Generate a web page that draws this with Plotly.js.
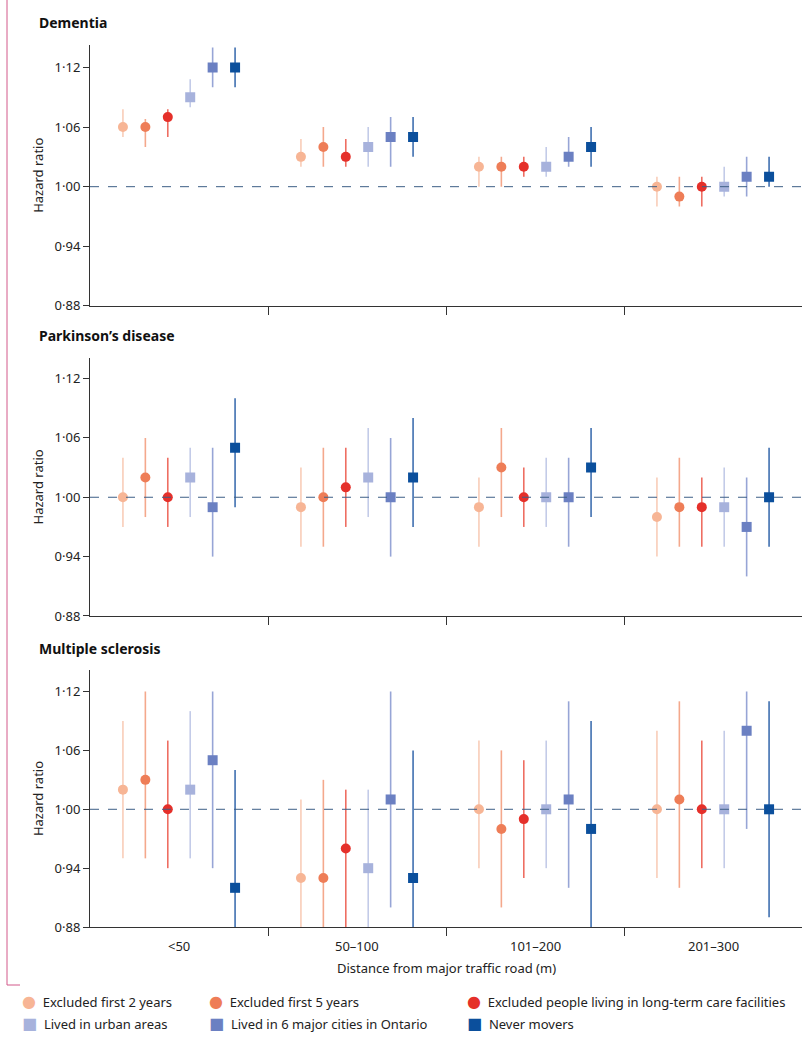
<!DOCTYPE html>
<html>
<head>
<meta charset="utf-8">
<script src="https://cdn.plot.ly/plotly-3.0.1.min.js"></script>
<style>body{margin:0;background:#fff}#chart{width:812px;height:1037px}</style>
</head>
<body>
<div id="chart"></div>
<script>
var groups = ['<50', '50–100', '101–200', '201–300'];
var seriesNames = ['Excluded first 2 years', 'Excluded first 5 years', 'Excluded people living in long-term care facilities',
                   'Lived in urban areas', 'Lived in 6 major cities in Ontario', 'Never movers'];
var colors = ['#f7b595', '#ee7d57', '#e5302a', '#a7b2dc', '#6b80c2', '#0b4f9c'];
var barColors = ['#f9cdb8', '#f4a88c', '#ee6e62', '#c3cbe8', '#97a5d6', '#3f6fb0'];
var symbols = ['circle', 'circle', 'circle', 'square', 'square', 'square'];
var panelTitles = ['Dementia', 'Parkinson’s disease', 'Multiple sclerosis'];

// [panel][series][group] : hazard ratio, lower, upper
var hr = [
  [[1.06, 1.03, 1.02, 1.00], [1.06, 1.04, 1.02, 0.99], [1.07, 1.03, 1.02, 1.00],
   [1.09, 1.04, 1.02, 1.00], [1.12, 1.05, 1.03, 1.01], [1.12, 1.05, 1.04, 1.01]],
  [[1.00, 0.99, 0.99, 0.98], [1.02, 1.00, 1.03, 0.99], [1.00, 1.01, 1.00, 0.99],
   [1.02, 1.02, 1.00, 0.99], [0.99, 1.00, 1.00, 0.97], [1.05, 1.02, 1.03, 1.00]],
  [[1.02, 0.93, 1.00, 1.00], [1.03, 0.93, 0.98, 1.01], [1.00, 0.96, 0.99, 1.00],
   [1.02, 0.94, 1.00, 1.00], [1.05, 1.01, 1.01, 1.08], [0.92, 0.93, 0.98, 1.00]]
];
var lower = [
  [[1.05, 1.02, 1.00, 0.98], [1.04, 1.02, 1.00, 0.98], [1.05, 1.02, 1.01, 0.98],
   [1.08, 1.02, 1.01, 0.99], [1.10, 1.02, 1.02, 0.99], [1.10, 1.03, 1.02, 1.00]],
  [[0.97, 0.95, 0.95, 0.94], [0.98, 0.95, 0.98, 0.95], [0.97, 0.97, 0.97, 0.95],
   [0.98, 0.98, 0.97, 0.95], [0.94, 0.94, 0.95, 0.92], [0.99, 0.97, 0.98, 0.95]],
  [[0.95, 0.87, 0.94, 0.93], [0.95, 0.87, 0.90, 0.92], [0.94, 0.87, 0.93, 0.94],
   [0.95, 0.87, 0.94, 0.94], [0.94, 0.90, 0.92, 0.98], [0.87, 0.87, 0.87, 0.89]]
];
var upper = [
  [[1.078, 1.048, 1.03, 1.01], [1.068, 1.06, 1.03, 1.01], [1.078, 1.048, 1.03, 1.01],
   [1.108, 1.06, 1.04, 1.02], [1.14, 1.07, 1.05, 1.03], [1.14, 1.07, 1.06, 1.03]],
  [[1.04, 1.03, 1.02, 1.02], [1.06, 1.05, 1.07, 1.04], [1.04, 1.05, 1.03, 1.02],
   [1.05, 1.07, 1.04, 1.03], [1.05, 1.06, 1.04, 1.02], [1.10, 1.08, 1.07, 1.05]],
  [[1.09, 1.01, 1.07, 1.08], [1.12, 1.03, 1.06, 1.11], [1.07, 1.02, 1.05, 1.07],
   [1.10, 1.02, 1.07, 1.08], [1.12, 1.12, 1.11, 1.12], [1.04, 1.06, 1.09, 1.11]]
];

var font = 'Noto Sans, DejaVu Sans, sans-serif';
var domains = [[0.705, 0.957], [0.406, 0.655], [0.106, 0.354]];
var ranges = [[0.88, 1.143], [0.88, 1.141], [0.88, 1.142]];
var yTicks = [0.88, 0.94, 1.00, 1.06, 1.12];
var yTickText = yTicks.map(v => v.toFixed(2).replace('.', '·'));

var traces = [];
var layout = {
  width: 812, height: 1037,
  margin: {l: 90, r: 10, t: 0, b: 0},
  showlegend: false,
  paper_bgcolor: '#fff', plot_bgcolor: '#fff',
  font: {family: font, size: 13, color: '#222'},
  shapes: [], annotations: []
};

for (var p = 0; p < 3; p++) {
  var ax = p === 0 ? '' : String(p + 1);
  for (var s = 0; s < 6; s++) {
    var xs = groups.map((g, gi) => gi + (s - 2.5) * 0.126);
    traces.push({
      x: xs, y: hr[p][s], type: 'scatter', mode: 'markers',
      xaxis: 'x' + ax, yaxis: 'y' + ax,
      marker: {color: colors[s], symbol: symbols[s], size: 10},
      error_y: {type: 'data', symmetric: false,
        array: hr[p][s].map((v, i) => upper[p][s][i] - v),
        arrayminus: hr[p][s].map((v, i) => v - lower[p][s][i]),
        color: barColors[s], thickness: 1.6, width: 0},
      hoverinfo: 'y'
    });
  }
  layout['xaxis' + ax] = {
    domain: [0, 1], anchor: 'y' + ax, range: [-0.5, 3.5],
    tickvals: [0.5, 1.5, 2.5], ticktext: ['', '', ''],
    ticks: 'outside', ticklen: 8, tickcolor: '#333',
    showline: true, linecolor: '#333', showgrid: false, zeroline: false
  };
  layout['yaxis' + ax] = {
    domain: domains[p], anchor: 'x' + ax, range: ranges[p],
    tickvals: yTicks, ticktext: yTickText,
    ticks: 'outside', ticklen: 6, tickcolor: '#333',
    showline: true, linecolor: '#333', showgrid: false, zeroline: false,
    tickfont: {size: 13},
    title: {text: 'Hazard ratio', font: {size: 13}, standoff: 8}
  };
  layout.shapes.push({type: 'line', xref: 'x' + ax + ' domain', yref: 'y' + ax,
    x0: 0, x1: 1, y0: 1, y1: 1, line: {color: '#3d5f86', width: 1, dash: 'dash'}});
  layout.annotations.push({text: '<b>' + panelTitles[p] + '</b>', xref: 'paper', yref: 'paper',
    x: -0.075, y: domains[p][1] + 0.01, xanchor: 'left', yanchor: 'bottom', showarrow: false,
    font: {size: 14, color: '#111'}});
}

groups.forEach((g, gi) => layout.annotations.push({text: g, xref: 'x3', yref: 'paper',
  x: gi, y: 0.098, yanchor: 'top', showarrow: false, font: {size: 13}}));
layout.annotations.push({text: 'Distance from major traffic road (m)', xref: 'paper', yref: 'paper',
  x: 0.5, y: 0.077, yanchor: 'top', showarrow: false, font: {size: 13}});

// legend drawn as annotations in two rows of three
var legX = [20, 207, 465];
seriesNames.forEach((name, i) => {
  var col = i % 3, row = i < 3 ? 0 : 1;
  var glyph = symbols[i] === 'circle' ? '●' : '■';
  layout.annotations.push({
    text: '<span style="color:' + colors[i] + ';font-size:16px">' + glyph + '</span>  ' + name,
    xref: 'paper', yref: 'paper', x: (legX[col] - 90) / 712, y: 1 - (1001 + row * 22) / 1037,
    xanchor: 'left', yanchor: 'middle', showarrow: false, font: {size: 13}
  });
});

// page frame
layout.shapes.push({type: 'line', xref: 'paper', yref: 'paper',
  x0: -83 / 712, x1: -83 / 712, y0: 1, y1: 1 - 985 / 1037, line: {color: '#d2588a', width: 1}});
layout.shapes.push({type: 'line', xref: 'paper', yref: 'paper',
  x0: -83 / 712, x1: -70 / 712, y0: 1 - 985 / 1037, y1: 1 - 985 / 1037, line: {color: '#d2588a', width: 1}});

Plotly.newPlot('chart', traces, layout, {displayModeBar: false});
</script>
</body>
</html>
